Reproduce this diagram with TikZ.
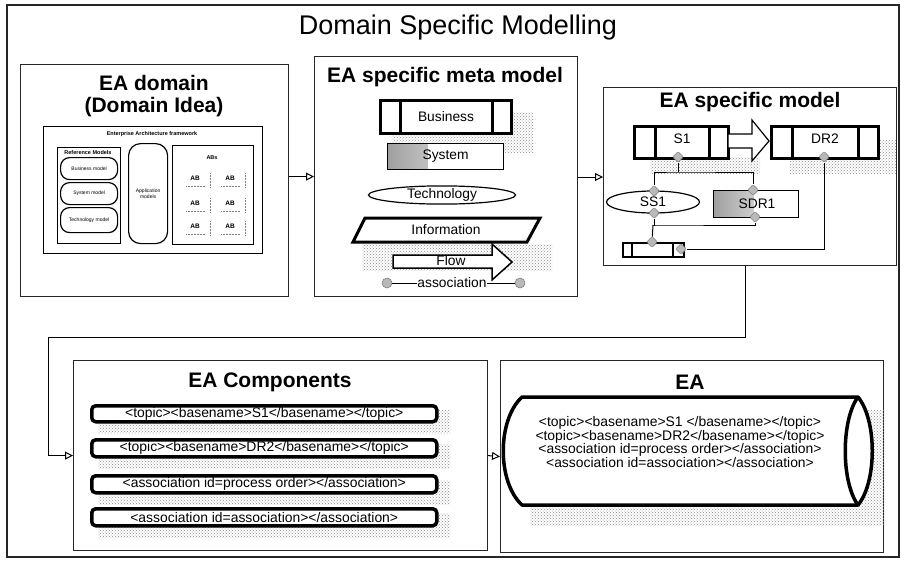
\documentclass[tikz,border=0pt]{standalone}
\usepackage{fontspec}
\setmainfont{Liberation Sans}
\usetikzlibrary{arrows.meta,shapes.geometric,patterns,calc}

\begin{document}
\begin{tikzpicture}[x=1pt,y=-1pt,
  frame/.style={draw=black!85,line width=1.2pt},
  panel/.style={draw=black!85,line width=1.2pt,fill=white,anchor=north west,inner sep=0pt},
  heading/.style={font=\fontsize{21}{23}\selectfont\bfseries},
  thickbox/.style={draw=black,line width=3pt,fill=white,anchor=north west,inner sep=0pt},
  thinbox/.style={draw=black,line width=1.2pt,fill=white,anchor=north west,inner sep=0pt},
  graded/.style={path picture={\shade[left color=gray!75,right color=white]
      (path picture bounding box.north west) rectangle
      ($(path picture bounding box.south west)+(40pt,0pt)$);}},
  shadowfill/.style={pattern=crosshatch dots,pattern color=black!45},
  port/.style={diamond,aspect=1,minimum size=11pt,inner sep=0pt,rounded corners=1.5pt,
      fill=gray!55,draw=black!55,line width=0.5pt},
  endport/.style={circle,minimum size=10pt,inner sep=0pt,fill=gray!55,draw=black!55,line width=0.5pt},
  link/.style={draw=black,line width=1pt},
  flowarrow/.style={draw=black,line width=1pt,-{Triangle[open,length=8pt,width=8pt]}},
  item/.style={font=\fontsize{13.8}{15}\selectfont},
  xml/.style={font=\fontsize{13.9}{13.7}\selectfont},
  tinyb/.style={font=\fontsize{5.5}{6}\selectfont\bfseries,inner sep=0.5pt},
  tiny/.style={font=\fontsize{5}{5.5}\selectfont,inner sep=0.5pt,align=center},
  pill/.style={draw=black,line width=1.2pt,rounded corners=9pt,fill=white,anchor=north west,inner sep=0pt}
]
\useasboundingbox (0,0) rectangle (901,562);

% outer frame and title
\draw[frame] (7,5) rectangle (899,557);
\node[font=\fontsize{27}{29}\selectfont] (title) at (458,28) {Domain Specific Modelling};

% ---------------- EA domain ----------------
\node[panel,minimum width=268pt,minimum height=232pt] (dom) at (20,64) {};
\node[heading] (domt1) at (154,83) {EA domain};
\node[heading] (domt2) at (154,107) {(Domain Idea)};

\node[thinbox,line width=1.4pt,minimum width=219pt,minimum height=127pt] (fw) at (43,126) {};
\node[tinyb] (fwt) at (152,134) {Enterprise Architecture framework};

\node[thinbox,line width=1.4pt,minimum width=63pt,minimum height=96pt] (refm) at (57,147) {};
\node[tinyb] (refmt) at (88,153) {Reference Models};
\node[pill,minimum width=57pt,minimum height=22pt] (bm) at (60,157) {};
\node[tiny] at (bm.center) {Business model};
\node[pill,minimum width=57pt,minimum height=22pt] (sm) at (60,182) {};
\node[tiny] at (sm.center) {System model};
\node[pill,minimum width=57pt,minimum height=25pt] (tm) at (60,207) {};
\node[tiny] at (tm.center) {Technology model};

\node[pill,rounded corners=12pt,minimum width=39pt,minimum height=100pt] (apm) at (128,143) {};
\node[tiny] at (apm.center) {Application\\models};

\node[thinbox,line width=1.4pt,minimum width=81pt,minimum height=99pt] (abs) at (172,145) {};
\node[tinyb] (abst) at (212,158) {ABs};
\foreach \x/\y in {195/178,230/178,195/203,230/203,195/226,230/226}{
  \node[font=\fontsize{6.5}{7}\selectfont\bfseries,inner sep=0pt] at (\x,\y) {AB};
  \draw[gray,densely dotted,line width=0.5pt] (\x-9,\y+8) -- (\x+10,\y+8);
  \draw[gray,densely dotted,line width=0.5pt] (\x+15,\y-5) -- (\x+15,\y+9);
}

% ---------------- EA specific meta model ----------------
\node[panel,minimum width=263pt,minimum height=240pt] (meta) at (314,56) {};
\node[heading] (metat) at (445,77) {EA specific meta model};

% shadows behind the meta model elements
\fill[shadowfill] (392,112) rectangle (533,152);
\fill[shadowfill] (362,244) rectangle (552,270);

\node[thickbox,minimum width=131pt,minimum height=33pt] (business) at (379,99) {};
\draw[line width=3pt] (400,99) -- (400,132) (492,99) -- (492,132);
\node[item] at (business.center) {Business};

\node[thinbox,graded,minimum width=116pt,minimum height=26pt] (system) at (387,143) {};
\node[item] at (system.center) {System};

\node[ellipse,draw=black,line width=1.2pt,fill=white,minimum width=147pt,minimum height=18pt,inner sep=0pt,
      item] (tech) at (442,195) {Technology};

\draw[line width=3pt,fill=white,line join=miter] (365,218) -- (540,218) -- (527,242) -- (353,242) -- cycle;
\node[item] (info) at (446,230) {Information};

\draw[line width=1.5pt,fill=white] (393,255) -- (492,255) -- (492,244) -- (512,262)
      -- (492,280) -- (492,268) -- (393,268) -- cycle;
\node[item] (flow) at (451,261) {Flow};

\node[endport] (assa) at (387,283) {};
\node[endport] (assb) at (520,283) {};
\draw[link] (assa) -- (assb);
\node[item,fill=white,inner sep=0.5pt] (assoc) at (452,283) {association};

% ---------------- EA specific model ----------------
\node[panel,minimum width=293pt,minimum height=178pt] (model) at (603,87) {};
\node[heading] (modelt) at (750,102) {EA specific model};

\fill[shadowfill] (650,157) rectangle (760,173);
\fill[shadowfill] (790,140) rectangle (896,173);

\node[thickbox,minimum width=94pt,minimum height=32pt] (s1) at (633,125) {};
\draw[line width=3pt] (655,125) -- (655,157) (709,125) -- (709,157);
\node[item] at (682,139) {S1};

\node[thickbox,minimum width=107pt,minimum height=32pt] (dr2) at (770,125) {};
\draw[line width=3pt] (792,125) -- (792,157) (858,125) -- (858,157);
\node[item] at (825,139) {DR2};

\draw[line width=1.2pt,fill=white] (728,134) -- (752,134) -- (752,120) -- (769,141)
      -- (752,161) -- (752,148) -- (728,148) -- cycle;

\node[ellipse,draw=black,line width=1.2pt,fill=white,minimum width=93pt,minimum height=22pt,inner sep=0pt,
      item] (ss1) at (653,202) {SS1};
\node[thinbox,graded,minimum width=85pt,minimum height=27pt] (sdr1) at (713,190) {};
\node[item] at (757,204) {SDR1};

\node[thinbox,line width=1.5pt,minimum width=61pt,minimum height=14pt] (ibox) at (622,242) {};
\draw[line width=1.2pt] (632,242) -- (632,256) (673,242) -- (673,256);

% ports
\node[port] (ps1) at (678,157) {};
\node[port] (pdr2) at (824,157) {};
\node[port] (pss1t) at (654,191) {};
\node[port] (pss1b) at (654,213) {};
\node[port] (psdr1t) at (753,190) {};
\node[port] (psdr1b) at (755,217) {};
\node[port] (pit) at (652,242) {};
\node[port] (pir) at (681,249) {};

\coordinate (jtop) at (678,172);
\coordinate (jbot) at (653,225);
\draw[link] (ps1) -- (jtop);
\draw[link] (pss1t) |- (jtop) -| (psdr1t);
\draw[link] (pss1b) |- (jbot) -| (psdr1b);
\draw[link] (jbot) -- (pit);
\draw[link] (pir) -| (pdr2);

% ---------------- EA Components ----------------
\node[panel,minimum width=414pt,minimum height=190pt] (comps) at (73,360) {};
\node[heading] (compst) at (270,382) {EA Components};

\foreach \ya/\yb in {404/420,438/455,474/491,507/524}{
  \fill[shadowfill] (98,\yb+1) rectangle (450,\yb+13);
  \fill[shadowfill] (436,\ya+6) rectangle (450,\yb+1);
}
\tikzset{row/.style={draw=black,line width=3.5pt,rounded corners=4pt,fill=white,
  anchor=north west,inner sep=0pt,minimum width=345pt}}
\node[row,minimum height=16pt] (r1) at (90,404) {};
\node[xml] at (r1.center) {<topic><basename>S1</basename></topic>};
\node[row,minimum height=17pt] (r2) at (90,438) {};
\node[xml] at (r2.center) {<topic><basename>DR2</basename></topic>};
\node[row,minimum height=17pt] (r3) at (90,474) {};
\node[xml] at (r3.center) {<association id=process order></association>};
\node[row,minimum height=17pt] (r4) at (90,507) {};
\node[xml] at (r4.center) {<association id=association></association>};

% ---------------- EA ----------------
\node[panel,minimum width=383pt,minimum height=192pt] (ea) at (500,360) {};
\node[heading] (eat) at (690,382) {EA};

\fill[shadowfill] (530,410) rectangle (885,525);
\draw[line width=3.5pt,fill=white,line join=round]
  (522,397) .. controls (497,420) and (497,482) .. (522,505)
  -- (858,505) .. controls (877,482) and (877,420) .. (858,397) -- cycle;
\draw[line width=3.5pt] (858,397) .. controls (841,420) and (841,482) .. (858,505);
\node[xml,align=center] (eatext) at (680,442)
  {<topic><basename>S1 </basename></topic>\\
   <topic><basename>DR2</basename></topic>\\
   <association id=process order></association>\\
   <association id=association></association>};

% ---------------- connectors between panels ----------------
\draw[flowarrow] (dom.east |- meta.west) -- (meta.west);
\draw[flowarrow] (meta.east |- 0,177) -- (model.west |- 0,177);
\coordinate (turnA) at (745,337);
\coordinate (turnB) at (48,337);
\draw[flowarrow] (model.south -| turnA) -- (turnA) -- (turnB) |- (comps.west);
\draw[flowarrow] (comps.east) -- (ea.west);
\end{tikzpicture}
\end{document}
